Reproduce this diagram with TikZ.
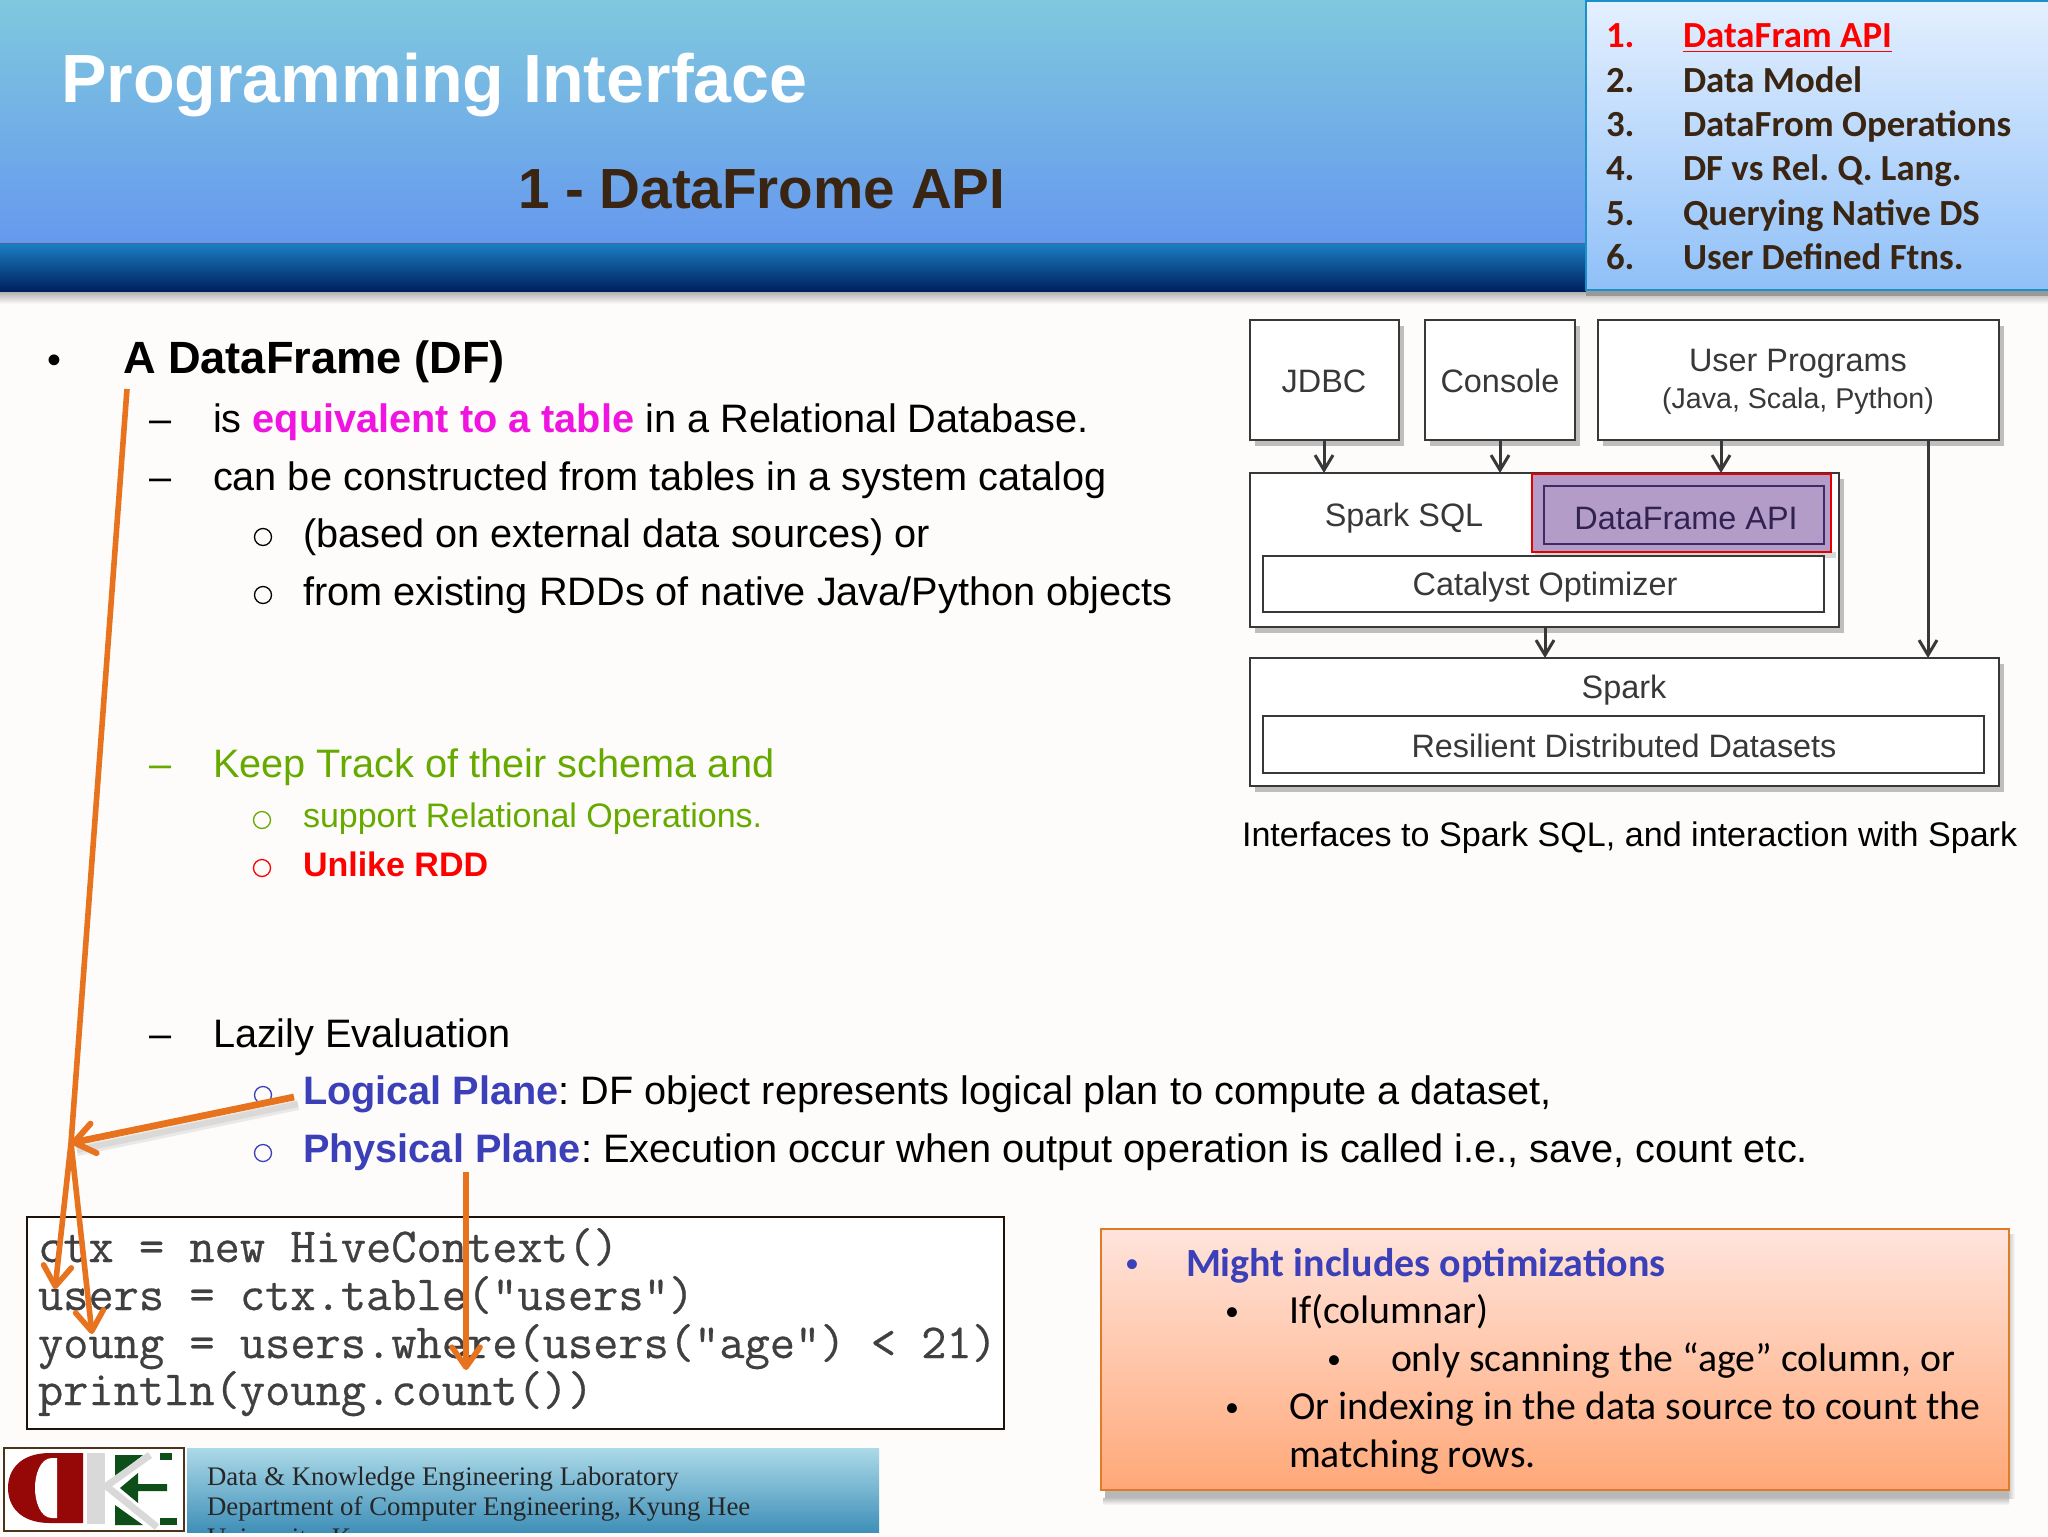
\documentclass[tikz,border=0pt]{standalone}
\usepackage{fontspec}
\setmainfont{Liberation Sans}
\newfontfamily\calib{Carlito}
\newfontfamily\serifb{Liberation Serif}
\setmonofont{Latin Modern Mono}[FakeBold=0.5]
\usetikzlibrary{arrows.meta}
\definecolor{bgc}{HTML}{FEFCFA}
\definecolor{hdtop}{HTML}{7FC8DE}
\definecolor{hdbot}{HTML}{6699EE}
\definecolor{bandtop}{HTML}{1A80C4}
\definecolor{bandbot}{HTML}{00205F}
\definecolor{tocborder}{HTML}{1A8FC8}
\definecolor{toctop}{HTML}{E4F0FF}
\definecolor{tocbot}{HTML}{8FC0F8}
\definecolor{brownt}{HTML}{3A2412}
\definecolor{magt}{HTML}{F014E0}
\definecolor{greent}{HTML}{66AA00}
\definecolor{bluet}{HTML}{3B40B8}
\definecolor{oran}{HTML}{E8731E}
\definecolor{purp}{HTML}{B39DC8}
\definecolor{purpd}{HTML}{3F2A66}
\definecolor{diag}{HTML}{383838}
\definecolor{boxb}{HTML}{E07B28}
\definecolor{opttop}{HTML}{FFE4DC}
\definecolor{optmid}{HTML}{FFCAAE}
\definecolor{optbot}{HTML}{FFA878}
\definecolor{ftop}{HTML}{ACDAE8}
\definecolor{fbot}{HTML}{3F8FB8}
\definecolor{logored}{HTML}{960808}
\definecolor{logogrn}{HTML}{0E4E18}
\newcommand{\fsz}[1]{\fontsize{#1}{#1}\selectfont}
\AtBeginDocument{\frenchspacing}
\tikzset{
  lbl/.style={anchor=base west,inner sep=0pt,outer sep=0pt},
  ctr/.style={anchor=center,inner sep=0pt,outer sep=0pt,text=diag,font=\fsz{16.2}},
  main/.style={lbl,font=\fsz{19.85}},
  subm/.style={lbl,font=\fsz{17}},
  cbul/.style={circle,inner sep=0pt,outer sep=0pt,minimum size=17pt*0.5,line width=.65pt,draw=black},
  tocl/.style={lbl,font=\calib\bfseries\fsz{18.4},text=brownt},
  opt/.style={lbl,font=\calib\fsz{19.9}},
  optb/.style={lbl,font=\calib\fsz{14}},
  codel/.style={lbl,font=\ttfamily\fsz{24.5},text=black!75},
  foot/.style={lbl,font=\serifb\fsz{13.4},text=black!85},
  dbox/.style={draw=diag,line width=1.4pt,fill=white},
  dshadow/.style={fill=black!45,draw=none,opacity=.55},
  darr/.style={draw=diag,line width=1.5pt,-{Straight Barb[length=7.5pt,width=9pt,line width=1.5pt]}},
  oarr/.style={draw=oran,line width=2.8pt,-{Straight Barb[length=10pt,width=14pt,line width=2.8pt,round]}},
  oarrl/.style={draw=oran,line width=3.4pt,-{Straight Barb[length=10pt,width=15pt,line width=3pt,round]}},
  oshadow/.style={draw=black!50,opacity=.15},
}
\begin{document}
\begin{tikzpicture}[x=0.5pt,y=-0.5pt]
\useasboundingbox (0,0) rectangle (2048,1536);
\fill[bgc] (0,0) rectangle (2048,1536);
% header
\shade[top color=black!30,bottom color=bgc] (0,292) rectangle (2048,304);
\shade[top color=hdtop,bottom color=hdbot] (0,0) rectangle (1590,243);
\shade[top color=bandtop,bottom color=bandbot] (0,243) rectangle (1590,291);
\draw[bandbot!70,line width=.5pt] (0,243) -- (1590,243);
\node[lbl,font=\bfseries\fsz{34.1},text=white] (title) at (61,103) {Programming Interface};
\node[lbl,font=\bfseries\fsz{28.3},text=brownt] (sub) at (518,208) {1 - DataFrome API};
% toc
\fill[black!40] (1586,286) rectangle (2048,296);
\shade[top color=toctop,bottom color=tocbot] (1586,0) rectangle (2048,290);
\draw[tocborder,line width=1.3pt] (1586,-2) -- (1586,290) -- (2050,290);
\draw[tocborder,line width=1.3pt] (1586,1) -- (2048,1);
\node[tocl,text=red] (t1) at (1606,48) {1.};
\node[tocl,text=red] (t1b) at (1683,48) {\underline{DataFram API}};
\node[tocl] (t2) at (1606,92) {2.};
\node[tocl] (t2b) at (1683,92) {Data Model};
\node[tocl] (t3) at (1606,136) {3.};
\node[tocl] (t3b) at (1683,136) {DataFrom Operations};
\node[tocl] (t4) at (1606,180) {4.};
\node[tocl] (t4b) at (1683,180) {DF vs Rel. Q. Lang.};
\node[tocl] (t5) at (1606,225) {5.};
\node[tocl] (t5b) at (1683,225) {Querying Native DS};
\node[tocl] (t6) at (1606,269) {6.};
\node[tocl] (t6b) at (1683,269) {User Defined Ftns.};
% main text
\node[main] (b0) at (47,373) {•};
\node[lbl,font=\bfseries\fsz{22.6}] (l0) at (123,373) {A DataFrame (DF)};
\node[main] (d1) at (149,432) {–};
\node[main] (l1) at (213,432) {is {\bfseries\color{magt}equivalent to a table} in a Relational Database.};
\node[main] (d2) at (149,490) {–};
\node[main] (l2) at (213,490) {can be constructed from tables in a system catalog};
\node[cbul] (o3) at (263,537) {};
\node[main] (l3) at (303,547) {(based on external data sources) or};
\node[cbul] (o4) at (263,595) {};
\node[main] (l4) at (303,605) {from existing RDDs of native Java/Python objects};
\node[main,text=greent] (d5) at (149,777) {–};
\node[main,text=greent] (l5) at (213,777) {Keep Track of their schema and};
\node[cbul,draw=greent] (o6) at (262,820) {};
\node[subm,text=greent] (l6) at (303,827) {support Relational Operations.};
\node[cbul,draw=red] (o7) at (262,868) {};
\node[subm,text=red,font=\bfseries\fsz{17}] (l7) at (303,876) {Unlike RDD};
\node[main] (d8) at (149,1047) {–};
\node[main] (l8) at (213,1047) {Lazily Evaluation};
\node[cbul,draw=bluet] (o9) at (263,1095) {};
\node[main] (l9) at (303,1104) {{\bfseries\color{bluet}Logical Plane}: DF object represents logical plan to compute a dataset,};
\node[cbul,draw=bluet] (o10) at (263,1153) {};
\node[main] (l10) at (303,1162) {{\bfseries\color{bluet}Physical Plane}: Execution occur when output operation is called i.e., save, count etc.};
% spark diagram
\foreach \a/\b/\c/\d in {1250/320/1399/440,1425/320/1575/440,1598/320/1999/440,1250/473/1839/627,1250/658/1999/786}
  {\fill[dshadow] (\a+5,\b+6) rectangle (\c+5,\d+6);}
\draw[dbox] (1250,320) rectangle (1399,440);
\draw[dbox] (1425,320) rectangle (1575,440);
\draw[dbox] (1598,320) rectangle (1999,440);
\draw[dbox] (1250,473) rectangle (1839,627);
\draw[dbox] (1250,658) rectangle (1999,786);
\node[ctr] (jdbc) at (1324,381) {JDBC};
\node[ctr] (console) at (1500,381) {Console};
\node[ctr] (user) at (1798,364) {User Programs};
\node[ctr,font=\fsz{14.3}] (userb) at (1798,401) {(Java, Scala, Python)};
\node[ctr] (sql) at (1404,518) {Spark SQL};
\fill[black!30,opacity=.5] (1535,552) rectangle (1836,558);
\fill[purp] (1532,474) rectangle (1831,552);
\draw[purpd,line width=1.4pt] (1544,486) rectangle (1824,544);
\draw[red!90!black,line width=1.2pt] (1532,474) rectangle (1831,552);
\node[ctr,text=purpd!80!black] (dfapi) at (1686,519) {DataFrame API};
\draw[dbox] (1263,556) rectangle (1824,612);
\node[ctr] (cat) at (1545,587) {Catalyst Optimizer};
\node[ctr] (spark) at (1624,690) {Spark};
\draw[dbox] (1263,716) rectangle (1984,773);
\node[ctr] (rdd) at (1624,746) {Resilient Distributed Datasets};
\coordinate (a1s) at (1324,440); \coordinate (a1e) at (1324,473);
\coordinate (a2s) at (1500,440); \coordinate (a2e) at (1500,473);
\coordinate (a3s) at (1721,440); \coordinate (a3e) at (1721,473);
\coordinate (a4s) at (1928,440); \coordinate (a4e) at (1928,658);
\coordinate (a5s) at (1545,627); \coordinate (a5e) at (1545,658);
\draw[darr] (a1s) -- (a1e);
\draw[darr] (a2s) -- (a2e);
\draw[darr] (a3s) -- (a3e);
\draw[darr] (a4s) -- (a4e);
\draw[darr] (a5s) -- (a5e);
\node[lbl,font=\fsz{17.05}] (caption) at (1242,846) {Interfaces to Spark SQL, and interaction with Spark};
% code box
\fill[white] (27,1217) rectangle (1004,1429);
\draw[black!85!brown,line width=1pt] (27,1217) rectangle (1004,1429);
\node[codel] (c1) at (38,1262) {ctx = new HiveContext()};
\node[codel] (c2) at (38,1310) {users = ctx.table("users")};
\node[codel] (c3) at (38,1358) {young = users.where(users("age") < 21)};
\node[codel] (c4) at (38,1405) {println(young.count())};
% orange arrows
\coordinate (top) at (127,389);
\coordinate (junc) at (71,1143);
\coordinate (e1) at (55,1289);
\coordinate (e2) at (92,1334);
\coordinate (ls) at (294,1097);
\coordinate (ps) at (466,1172);
\coordinate (pe) at (466,1370);
\draw[oshadow,line width=5pt] ([shift={(4,8)}]ls) -- ([shift={(6,8)}]junc);
\draw[oshadow,line width=3pt] ([shift={(4,7)}]ls) -- ([shift={(6,7)}]junc);
\draw[oarr] (top) -- (junc) -- (e1);
\draw[oarr] (junc) -- (e2);
\draw[oarrl] (ls) -- (junc);
\draw[oarr] (ps) -- (pe);
% optimization box
\fill[black!45,opacity=.6] (1105,1490) rectangle (2009,1498);
\shade[top color=black!25,bottom color=bgc] (1103,1498) rectangle (2009,1505);
\shade[left color=black!20,right color=bgc] (2009,1234) rectangle (2015,1498);
\shade[top color=opttop,middle color=optmid,bottom color=optbot] (1101,1229) rectangle (2009,1490);
\draw[boxb,line width=1.2pt] (1101,1229) rectangle (2009,1490);
\node[optb,text=bluet] (ob1) at (1125,1272) {•};
\node[lbl,text=bluet,font=\calib\bfseries\fsz{20}] (op1) at (1186,1276) {Might includes optimizations};
\node[optb] (ob2) at (1225,1320) {•};
\node[opt] (op2) at (1289,1323) {If(columnar)};
\node[optb] (ob3) at (1327,1368) {•};
\node[opt] (op3) at (1391,1371) {only scanning the “age” column, or};
\node[optb] (ob4) at (1225,1416) {•};
\node[opt] (op4) at (1289,1419) {Or indexing in the data source to count the};
\node[opt] (op5) at (1289,1467) {matching rows.};
% footer
\draw[black!60!brown,line width=.7pt,fill=white] (4,1448) rectangle (184,1531);
\fill[logored] (83,1453) -- (50,1453) .. controls (20,1453) and (8,1470) .. (8,1488) .. controls (8,1506) and (20,1523) .. (50,1523) -- (83,1523) -- cycle;
\fill[white] (57,1458) -- (52,1458) .. controls (40,1458) and (35,1475) .. (35,1488) .. controls (35,1501) and (40,1518) .. (52,1518) -- (57,1518) -- cycle;
\fill[black!15] (87,1453) rectangle (105,1524);
\fill[logogrn] (115,1455) -- (143,1455) -- (115,1477) -- cycle;
\fill[logogrn] (115,1505) -- (143,1525) -- (115,1525) -- cycle;
\draw[black!15,line width=3.5pt] (105,1487) -- (150,1455);
\draw[black!15,line width=3.5pt] (105,1485) -- (157,1527);
\fill[logogrn] (120,1488) -- (138,1473) -- (138,1484) -- (167,1484) -- (167,1491) -- (138,1491) -- (138,1503) -- cycle;
\fill[logogrn] (160,1453) rectangle (172,1460);
\fill[logogrn] (160,1518) rectangle (177,1525);
\shade[top color=ftop,bottom color=fbot] (187,1448) rectangle (879,1532);
\begin{scope}
\clip (187,1448) rectangle (879,1532);
\node[foot] (f1) at (207,1485) {Data \& Knowledge Engineering Laboratory};
\node[foot] (f2) at (207,1515) {Department of Computer Engineering, Kyung Hee};
\node[foot] (f3) at (207,1546) {University, Korea};
\end{scope}
\end{tikzpicture}
\end{document}
